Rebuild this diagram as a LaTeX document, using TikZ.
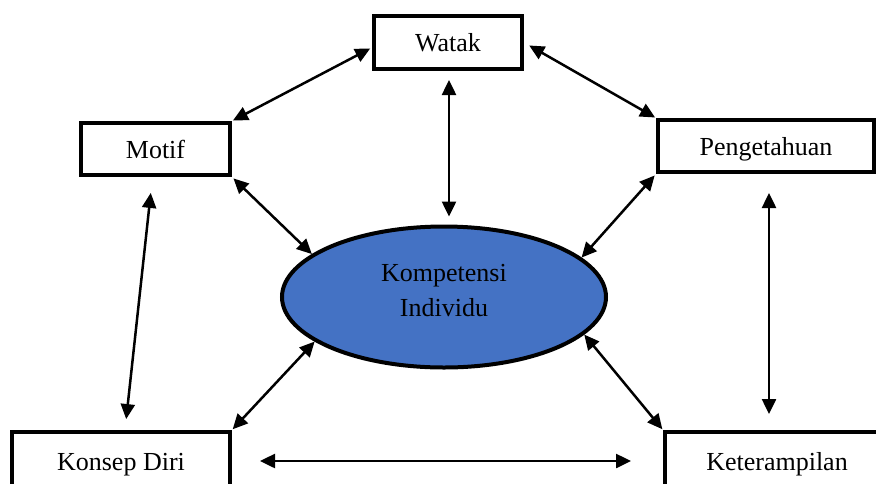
\documentclass[tikz,border=0pt]{standalone}
\usepackage{fontspec}
\setmainfont{Liberation Serif}
\usepackage{xcolor}
\usetikzlibrary{arrows.meta, shapes.geometric}
\definecolor{birukompetensi}{HTML}{4472C4}

\begin{document}
\begin{tikzpicture}[x=1pt, y=-1pt,
    >={Triangle[length=15pt, width=14pt]},
    kotak/.style={draw, line width=4pt, fill=white, inner sep=0pt,
        text height=18pt, text depth=0pt,
        font=\fontsize{26}{31}\selectfont},
    panah/.style={<->, line width=2.5pt}]

    % =================================================================
    % 1. UKURAN GAMBAR
    % =================================================================
    \useasboundingbox (0,0) rectangle (876,483);
    \clip (0,0) rectangle (876,483);

    % =================================================================
    % 2. KOTAK-KOTAK DAN ELIPS
    % =================================================================
    \node[kotak, minimum width=148pt, minimum height=53pt] (watak) at (448,42.5) {Watak};
    \node[kotak, minimum width=149pt, minimum height=52pt] (motif) at (155.5,149) {Motif};
    \node[kotak, minimum width=216pt, minimum height=52pt] (pengetahuan) at (766,146) {Pengetahuan};
    \node[kotak, minimum width=218pt, minimum height=58pt] (konsep) at (121,461) {Konsep Diri};
    \node[kotak, minimum width=224pt, minimum height=58pt] (terampil) at (777,461) {Keterampilan};

    % Elips Kompetensi Individu
    \node[ellipse, draw, line width=4pt, fill=birukompetensi, inner sep=0pt,
        minimum width=324pt, minimum height=141pt] (kompetensi) at (444,297) {};
    \node[align=center, font=\fontsize{26}{35}\selectfont]
        at ([yshift=6pt]kompetensi.center) {Kompetensi\\Individu};

    % =================================================================
    % 3. PANAH DUA ARAH
    % =================================================================
    \draw[panah, shorten <=2pt, shorten >=1pt] ([yshift=-5pt]watak.west) -- (motif.north east);
    \draw[panah, shorten <=6pt, shorten >=1pt] (watak.east) -- (pengetahuan.north west);
    \draw[panah, shorten <=9pt, shorten >=8pt] ([xshift=1pt]watak.south) -- ([xshift=1pt]watak.south |- kompetensi.north);
    \draw[panah, shorten <=2pt] (motif.south east) -- (kompetensi.162);
    \draw[panah, shorten <=2pt] (pengetahuan.south west) -- (kompetensi.16);
    \draw[panah, shorten <=16pt, shorten >=11pt] ([xshift=-3pt]motif.south) -- ([xshift=4pt]konsep.north);
    \draw[panah, shorten <=19pt, shorten >=16pt] ([xshift=3pt]pengetahuan.south) -- ([xshift=-8pt]terampil.north);
    \draw[panah, shorten <=1pt] (konsep.north east) -- (kompetensi.199);
    \draw[panah, shorten <=1pt] (terampil.north west) -- (kompetensi.345);
    \draw[panah, shorten <=28pt, shorten >=32pt] (konsep.east) -- (terampil.west);

\end{tikzpicture}
\end{document}
